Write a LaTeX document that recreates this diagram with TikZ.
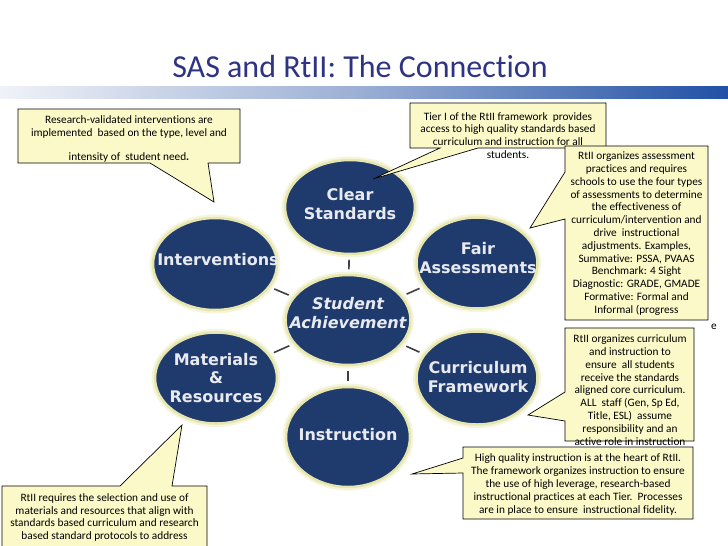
\documentclass[tikz,border=0pt]{standalone}
\usepackage{fontspec}
\setmainfont{Carlito}[Ligatures={NoCommon}]
\newfontfamily\bubblefont{DejaVu Sans}
\usetikzlibrary{shapes.geometric}
\definecolor{navy}{HTML}{1F3B6D}
\definecolor{glowin}{HTML}{E6E6AE}
\definecolor{glowout}{HTML}{F5F5DC}
\definecolor{callfill}{HTML}{FCF9C9}
\definecolor{titleblue}{HTML}{2E3383}
\definecolor{bardark}{HTML}{2150A5}
\definecolor{barlight}{HTML}{F0F2F8}
\definecolor{barmid}{HTML}{9AAED4}
\definecolor{bubtext}{HTML}{E9EAF0}
\begin{document}
\begin{tikzpicture}[x=1pt,y=-1pt,
  bubble/.style={ellipse, inner sep=0pt, fill=navy, draw=glowin, line width=2.5pt,
    preaction={draw=glowout, line width=7pt}},
  bubtext/.style={font=\bubblefont\bfseries\fontsize{16}{18.5}\selectfont, text=bubtext, align=center, inner sep=0pt},
  linkline/.style={draw=black!75, line width=1.6pt, shorten <=4.5pt, shorten >=4.5pt},
  callbox/.style={fill=callfill, draw=black, line width=0.7pt, line join=miter},
  calltext/.style={font=\fontsize{11.3}{12.8}\selectfont, align=center, inner sep=0pt, text=black},
]
\useasboundingbox (0,0) rectangle (728,546);
\fill[white] (0,0) rectangle (728,546);

% title and bar
\node[font=\fontsize{32}{36}\selectfont, text=titleblue, anchor=base] (title) at (360,77) {SAS and RtII: The Connection};
\shade[left color=barlight, right color=bardark, middle color=barmid] (0,86) rectangle (728,98);

% bubbles
\node[bubble, minimum width=130pt, minimum height=94pt] (cs) at (350,207) {};
\node[bubble, minimum width=124pt, minimum height=92pt] (iv) at (215,264) {};
\node[bubble, minimum width=121pt, minimum height=91pt] (fa) at (477,263) {};
\node[bubble, minimum width=125pt, minimum height=90pt] (sa) at (348,320) {};
\node[bubble, minimum width=122pt, minimum height=91pt] (mr) at (216,378) {};
\node[bubble, minimum width=121pt, minimum height=93pt] (cf) at (477,378) {};
\node[bubble, minimum width=124pt, minimum height=100pt] (ins) at (348,437) {};

\draw[linkline] (sa) -- (cs);
\draw[linkline] (sa) -- (iv);
\draw[linkline] (sa) -- (fa);
\draw[linkline] (sa) -- (mr);
\draw[linkline] (sa) -- (cf);
\draw[linkline] (sa) -- (ins);

\node[bubtext] (cst) at (350,204) {Clear\\Standards};
\node[bubtext] (ivt) at (218,260) {Interventions};
\node[bubtext] (fat) at (478,258) {Fair\\Assessments};
\node[bubtext, font=\bubblefont\bfseries\itshape\fontsize{16}{18.5}\selectfont] (sat) at (348,313) {Student\\Achievement};
\node[bubtext] (mrt) at (216,378) {Materials\\\&\\Resources};
\node[bubtext] (cft) at (478,377) {Curriculum\\Framework};
\node[bubtext] (inst) at (348,435) {Instruction};

% callout 1
\path[callbox] (18,109) -- (240,109) -- (240,163) -- (208,163) -- (214,202) -- (150,163) -- (18,163) -- cycle;
\node[calltext] (t1) at (129,139) {Research-validated interventions are\\implemented\ \ based on the type, level and\\[12pt]intensity of\ \ student need{\bfseries.}};

% callout 2
\path[callbox] (410,103) -- (606,103) -- (606,148) -- (478,148) -- (373,179) -- (440,148) -- (410,148) -- cycle;
\node[calltext] (t2) at (508,135.5) {Tier I of the RtII framework\ \ provides\\access to high quality standards based\\curriculum and instruction for all\\students.};

% callout 3
\path[callbox] (565,146) -- (708,146) -- (708,320) -- (565,320) -- (565,219) -- (530,228) -- (565,172) -- cycle;
\node[calltext] (t3) at (636.5,233.5) {RtII organizes assessment\\practices and requires\\schools to use the four types\\of assessments to determine\\the effectiveness of\\curriculum/intervention and\\drive\ \ instructional\\adjustments. Examples,\\Summative: PSSA, PVAAS\\Benchmark: 4 Sight\\Diagnostic: GRADE, GMADE\\Formative: Formal and\\Informal (progress};
\node[calltext] (t3e) at (714,327) {e};

% callout 4
\path[callbox] (565,328) -- (694,328) -- (694,441) -- (565,441) -- (565,421) -- (528,415) -- (565,392) -- cycle;
\node[calltext] (t4) at (630,390) {RtII organizes curriculum\\and instruction to\\ensure\ \ all students\\receive the standards\\aligned core curriculum.\\ALL\ \ staff (Gen, Sp Ed,\\Title, ESL)\ \ assume\\responsibility and an\\active role in instruction};

% callout 5
\path[callbox] (463,447) -- (693,447) -- (693,519) -- (463,519) -- (463,473) -- (412,474) -- (463,458) -- cycle;
\node[calltext] (t5) at (578,484.5) {High quality instruction is at the heart of RtII.\\The framework organizes instruction to ensure\\the use of high leverage, research-based\\instructional practices at each Tier.\ \ Processes\\are in place to ensure\ \ instructional fidelity.};

% callout 6
\path[callbox] (2,486) -- (120,486) -- (182,425) -- (172,486) -- (207,486) -- (207,560) -- (2,560) -- cycle;
\node[calltext] (t6) at (104.5,517.5) {RtII requires the selection and use of\\materials and resources that align with\\standards based curriculum and research\\based standard protocols to address};
\end{tikzpicture}
\end{document}
